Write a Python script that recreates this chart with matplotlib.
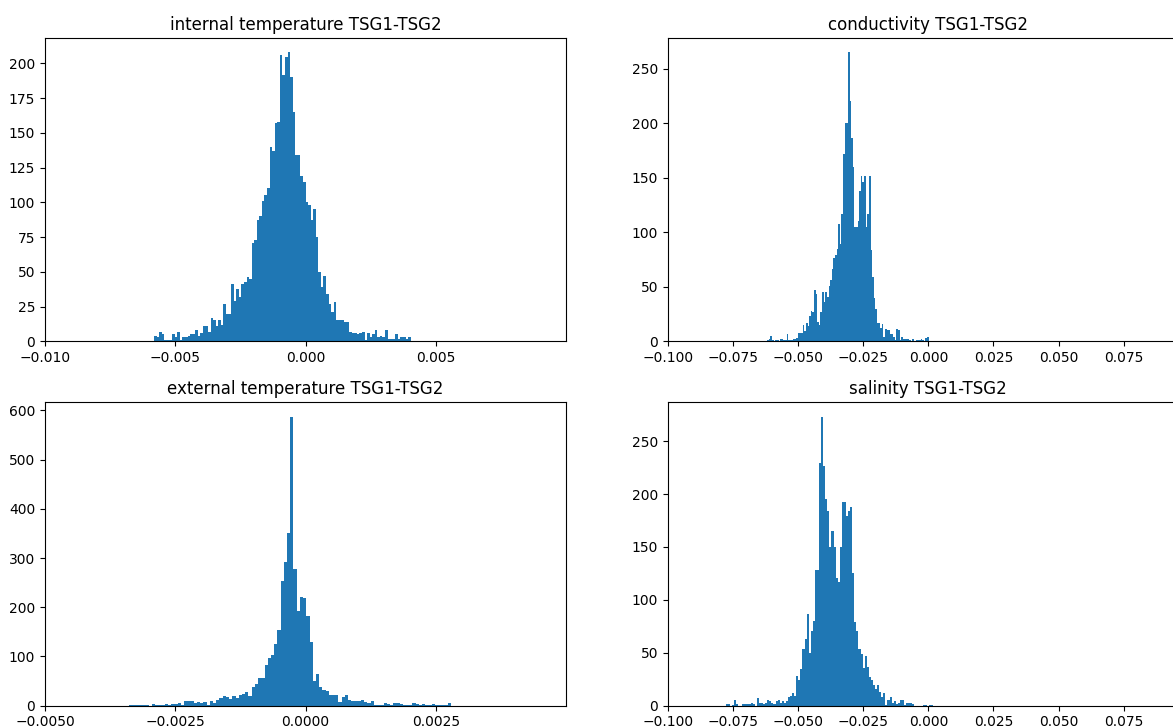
import numpy as np
import matplotlib
matplotlib.use("Agg")
import matplotlib.pyplot as plt

# ---------------- data ----------------
titles = ["internal temperature TSG1-TSG2", "conductivity TSG1-TSG2",
          "external temperature TSG1-TSG2", "salinity TSG1-TSG2"]

# internal temperature: 100 bins
int_temp_range = (-0.00581, 0.00403)
int_temp_counts = [
    4, 3, 7, 5, 1, 1, 1, 5, 3, 7,
    1, 3, 3, 4, 5, 5, 8, 4, 6, 11,
    11, 7, 17, 15, 11, 15, 12, 27, 20, 20,
    41, 29, 38, 32, 41, 43, 46, 45, 71, 73,
    87, 90, 101, 105, 110, 140, 137, 157, 158, 206,
    192, 205, 208, 190, 165, 134, 134, 119, 115, 100,
    98, 87, 95, 75, 50, 39, 47, 34, 27, 21,
    28, 15, 15, 15, 14, 14, 7, 6, 6, 5,
    6, 7, 1, 6, 3, 5, 8, 3, 4, 3,
    8, 2, 2, 2, 5, 2, 3, 3, 2, 3]

# conductivity: 100 bins
cond_range = (-0.0618, 0.0001)
cond_counts = [
    1, 2, 5, 1, 0, 1, 1, 0, 2, 2,
    1, 1, 7, 1, 1, 1, 2, 2, 3, 8,
    8, 8, 15, 9, 17, 14, 23, 28, 27, 47,
    43, 18, 15, 27, 45, 36, 45, 41, 51, 56,
    66, 76, 79, 85, 108, 89, 117, 172, 200, 200,
    265, 220, 186, 160, 105, 105, 110, 138, 152, 146,
    152, 105, 117, 152, 84, 59, 40, 30, 17, 17,
    12, 16, 4, 11, 10, 10, 7, 7, 4, 1,
    11, 10, 1, 4, 2, 2, 2, 2, 1, 0,
    2, 0, 1, 1, 1, 2, 1, 0, 3, 4]

# external temperature: 100 bins
ext_temp_range = (-0.00338, 0.00279)
ext_temp_counts = [
    1, 2, 1, 1, 1, 1, 0, 3, 2, 2,
    2, 3, 2, 3, 3, 5, 1, 9, 9, 9,
    5, 8, 5, 8, 2, 9, 5, 12, 16, 19,
    17, 13, 20, 16, 21, 24, 27, 20, 37, 45,
    56, 56, 83, 97, 104, 126, 153, 253, 291, 351,
    587, 277, 193, 220, 218, 183, 130, 50, 64, 39,
    32, 29, 22, 22, 22, 7, 17, 22, 12, 9,
    10, 9, 12, 8, 6, 9, 2, 1, 2, 5,
    3, 1, 5, 6, 3, 2, 1, 2, 5, 3,
    2, 3, 2, 1, 3, 1, 1, 1, 1, 5]

# salinity: 100 bins
sal_range = (-0.0777, 0.0018)
sal_counts = [
    2, 2, 0, 1, 5, 2, 0, 0, 2, 2,
    2, 2, 3, 2, 0, 7, 3, 3, 2, 3,
    5, 4, 3, 2, 4, 5, 3, 4, 3, 4,
    8, 9, 12, 9, 28, 24, 35, 54, 63, 87,
    50, 71, 80, 128, 128, 229, 273, 226, 195, 184,
    150, 165, 150, 121, 117, 150, 192, 192, 179, 184,
    188, 125, 79, 71, 54, 49, 36, 47, 37, 27,
    24, 20, 16, 20, 13, 8, 12, 1, 5, 8,
    3, 4, 2, 3, 5, 5, 1, 3, 3, 3,
    2, 0, 0, 0, 0, 1, 1, 0, 1, 1]

x_limits = [(-0.01, 0.00999), (-0.1, 0.0999), (-0.005, 0.004995), (-0.1, 0.0999)]
x_ticks = [[-0.010, -0.005, 0.000, 0.005],
           [-0.100, -0.075, -0.050, -0.025, 0.000, 0.025, 0.050, 0.075],
           [-0.0050, -0.0025, 0.0000, 0.0025],
           [-0.100, -0.075, -0.050, -0.025, 0.000, 0.025, 0.050, 0.075]]

ranges = [int_temp_range, cond_range, ext_temp_range, sal_range]
counts_all = [int_temp_counts, cond_counts, ext_temp_counts, sal_counts]

# ---------------- figure ----------------
W, H = 1173, 727
fig = plt.figure(figsize=(W / 100, H / 100), dpi=100)

ax_w, ax_h = 521 / W, 303.4 / H
lefts = [45 / W, 667.7 / W]
bottoms = [(H - 341.3) / H, (H - 705.7) / H]
positions = [(lefts[0], bottoms[0]), (lefts[1], bottoms[0]),
             (lefts[0], bottoms[1]), (lefts[1], bottoms[1])]

for (l, b), title, rng, cnts, xl, xt in zip(positions, titles, ranges,
                                            counts_all, x_limits, x_ticks):
    ax = fig.add_axes([l, b, ax_w, ax_h])
    cnts = np.asarray(cnts, dtype=float)
    edges = np.linspace(rng[0], rng[1], len(cnts) + 1)
    ax.hist(edges[:-1], bins=edges, weights=cnts, color="#1f77b4")
    ax.set_xlim(*xl)
    ax.set_xticks(xt)
    ax.set_title(title)

fig.savefig("out.png", dpi=100)
